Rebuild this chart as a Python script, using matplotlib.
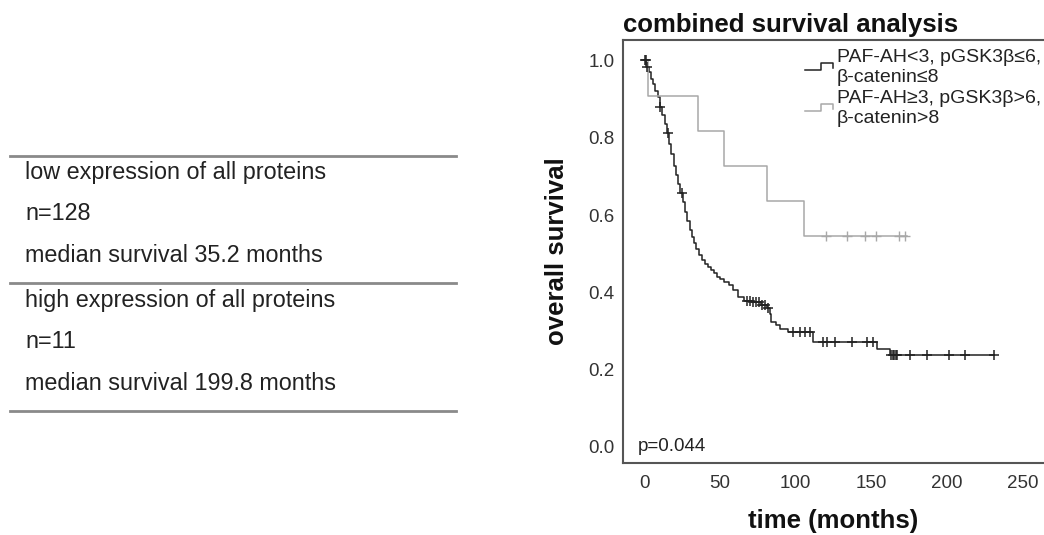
import numpy as np
import matplotlib
matplotlib.use("Agg")
import matplotlib.pyplot as plt
from matplotlib.lines import Line2D
from matplotlib.legend_handler import HandlerBase

plt.rcParams['font.family'] = ['Liberation Sans', 'DejaVu Sans']

# Kaplan-Meier step knots
low_t = [0, 1.5, 3, 4.5, 6, 7.5, 9, 10.5, 12, 13.5, 15, 16.5, 18, 19.5, 21, 22.5,
         24, 25.5, 27, 28.5, 30, 31.5, 33, 34.5, 36, 38, 40, 42, 44, 46, 48, 50,
         53, 56, 59, 62, 66, 72, 77, 81, 83, 84, 87, 90, 95, 111.5, 153.5, 162, 231]
low_s = [1.0, 0.984, 0.969, 0.953, 0.938, 0.922, 0.906, 0.88, 0.859, 0.836, 0.812,
         0.785, 0.758, 0.727, 0.703, 0.68, 0.656, 0.633, 0.609, 0.586, 0.562, 0.543,
         0.527, 0.512, 0.496, 0.484, 0.473, 0.465, 0.457, 0.449, 0.441, 0.434, 0.426,
         0.418, 0.406, 0.387, 0.379, 0.375, 0.367, 0.36, 0.344, 0.324, 0.316, 0.305,
         0.297, 0.272, 0.254, 0.238, 0.238]
low_cens = [0.5, 1, 2, 10.5, 16, 25, 68, 70, 72, 74, 76, 78, 80, 82, 98, 103, 106,
            109.5, 118, 121, 126, 137, 147, 151, 163, 164, 165, 166, 167, 175.5,
            186.5, 201, 212, 231]

high_t = [0, 2.6, 35.6, 52.8, 81, 105.5, 173.5]
high_s = [1.0, 0.909, 0.818, 0.727, 0.636, 0.545, 0.545]
high_cens = [120, 134, 146, 153, 168, 172]

labels = ["PAF-AH<3, pGSK3β≤6,\nβ-catenin≤8", "PAF-AH≥3, pGSK3β>6,\nβ-catenin>8"]
table_rows = ["low expression of all proteins", "n=128", "median survival 35.2 months",
              "high expression of all proteins", "n=11", "median survival 199.8 months"]


def step_value(ts, ss, x):
    i = np.searchsorted(ts, x, side='right') - 1
    return np.array(ss)[i]


class StepHandler(HandlerBase):
    def create_artists(self, legend, orig_handle, xdescent, ydescent, width, height, fontsize, trans):
        xs = np.array([0, 0.55, 0.55, 1, 1]) * width - xdescent
        ys = np.array([0.3, 0.3, 0.8, 0.8, 0.45]) * height - ydescent
        line = Line2D(xs, ys, color=orig_handle.get_color(), lw=orig_handle.get_linewidth())
        line.set_transform(trans)
        return [line]


fig = plt.figure(figsize=(10.44, 5.35), dpi=100)

# left table drawn in pixel coordinates
tab = fig.add_axes([0, 0, 1, 1])
tab.set_xlim(0, 1044)
tab.set_ylim(535, 0)
tab.axis('off')
for y in [156, 283, 411]:
    tab.plot([10, 456], [y, y], color='#8a8a8a', lw=2)
row_y = [173, 214, 256, 300, 342, 383]
for txt, y in zip(table_rows, row_y):
    tab.text(25, y, txt, fontsize=16.8, color='#222222', va='center', ha='left')

ax = fig.add_axes([623 / 1044, 72 / 535, 421 / 1044, 423 / 535])
low_col = '#222222'
high_col = '#a8a8a8'
l1, = ax.step(low_t, low_s, where='post', color=low_col, lw=1.1)
l2, = ax.step(high_t, high_s, where='post', color=high_col, lw=1.1)
ax.plot(low_cens, step_value(low_t, low_s, low_cens), '+', color=low_col, ms=7, mew=1.1)
ax.plot(high_cens, step_value(high_t, high_s, high_cens), '+', color=high_col, ms=7, mew=1.0)

ax.set_xlim(-13.9, 263.9)
ax.set_ylim(-0.0414, 1.053)
ax.set_xticks([0, 50, 100, 150, 200, 250])
ax.set_yticks([0.0, 0.2, 0.4, 0.6, 0.8, 1.0])
ax.set_yticklabels(['0.0', '0.2', '0.4', '0.6', '0.8', '1.0'])
ax.tick_params(length=0, labelsize=13.5, colors='#333333', pad=6)
ax.tick_params(axis='x', pad=9)
for side in ['left', 'top', 'bottom']:
    ax.spines[side].set_color('#555555')
    ax.spines[side].set_linewidth(1.5)
ax.spines['right'].set_visible(False)

ax.set_title('combined survival analysis', fontsize=18.5, fontweight='bold',
             loc='left', pad=6, color='#111111')
ax.set_ylabel('overall survival', fontsize=18.5, fontweight='bold', labelpad=14, color='#111111')
ax.set_xlabel('time (months)', fontsize=18.5, fontweight='bold', labelpad=12, color='#111111')
ax.text(-4, 0.0, 'p=0.044', fontsize=13.5, color='#222222', va='center', ha='left')

leg = ax.legend([l1, l2], labels, handler_map={Line2D: StepHandler()},
                loc='upper left', bbox_to_anchor=(805 / 1044, 1 - 49 / 535),
                bbox_transform=fig.transFigure, frameon=False, fontsize=14,
                handlelength=1.45, handletextpad=0.2, borderpad=0, borderaxespad=0,
                labelspacing=0.2)
for t in leg.get_texts():
    t.set_linespacing(1.25)
    t.set_color('#222222')

fig.savefig('out.png', dpi=100)
